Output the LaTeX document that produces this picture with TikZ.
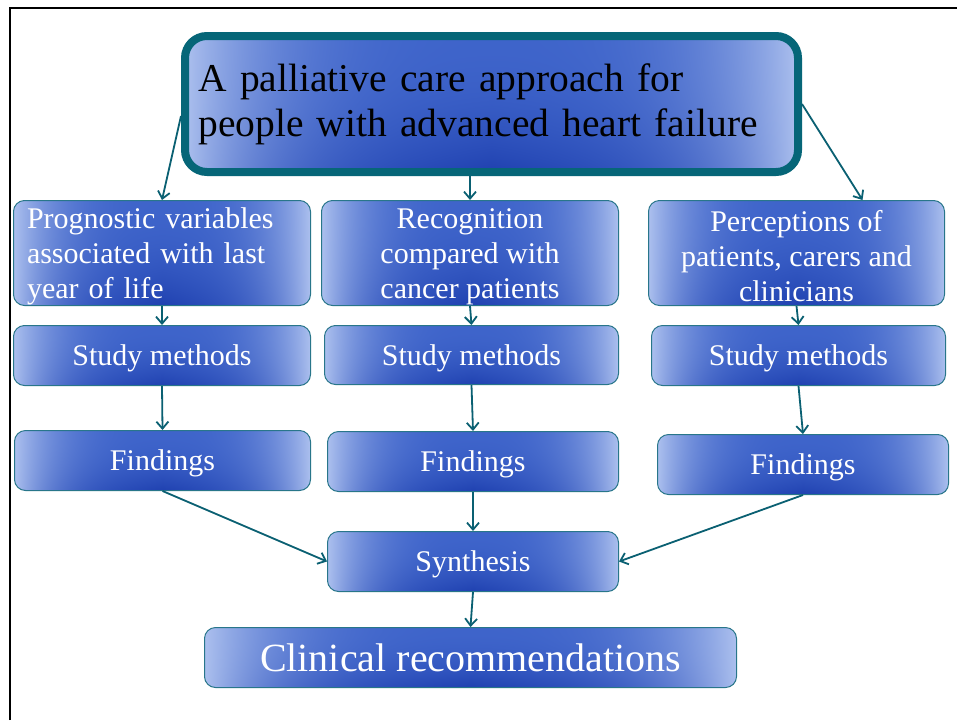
\documentclass[tikz,border=0pt]{standalone}
\usepackage{fontspec}
\setmainfont{Liberation Serif}
\usetikzlibrary{arrows.meta}
\definecolor{edge}{RGB}{40,118,138}
\definecolor{arr}{RGB}{10,96,114}
\definecolor{tb}{RGB}{6,102,120}
\pgfdeclarefunctionalshading{boxsh}{\pgfpoint{0bp}{0bp}}{\pgfpoint{100bp}{100bp}}{}{
  25 sub 50 div 1 exch sub dup mul
  exch 25 sub 50 div 2 mul 1 sub abs
  dup dup dup mul mul
  exch 1 exch sub
  3 -1 roll mul 0.7 mul
  1 index 0.43 mul 0.245 add
  1 index 1 exch sub mul
  1 index 0.071 mul add
  2 index 0.36 mul 0.393 add
  2 index 1 exch sub mul
  2 index 0.196 mul add
  3 index 0.14 mul 0.793 add
  3 index 1 exch sub mul
  3 index 0.647 mul add
  5 -2 roll pop pop
}
\newcommand{\upstrut}{\rule{0pt}{27pt}}
\begin{document}
\begin{tikzpicture}[x=1pt,y=-1pt,
  box/.style={draw=edge, line width=1pt, rounded corners=11pt, shade, shading=boxsh,
    text=white, inner sep=0pt, align=center, anchor=north west, font=\fontsize{30}{35}\selectfont},
  onebox/.style={box, text depth=0pt},
  titlebox/.style={draw=tb, line width=8pt, rounded corners=22pt, shade, shading=boxsh,
    text=black, inner sep=0pt, align=left, font=\fontsize{39.5}{45}\selectfont},
  arrow/.style={draw=arr, line width=1.8pt, -{Straight Barb[length=7pt,width=12pt]}}]
\useasboundingbox (0,0) rectangle (957,720);
\fill[white] (0,0) rectangle (957,720);
\draw[line width=2.5pt] (10,720) -- (10,8) -- (957,8);

\node[titlebox, minimum width=613pt, minimum height=136pt, text width=586pt] (t) at (491.5,104)
  {A palliative care approach for\\people with advanced heart failure};

\node[box, minimum width=297pt, minimum height=105pt, text width=270pt, align=left] (p) at (13,200)
  {\upstrut Prognostic variables\\associated with last\\year of life};
\node[box, minimum width=297pt, minimum height=105pt] (r) at (321,200)
  {\upstrut Recognition\\compared with\\cancer patients};
\node[box, minimum width=296pt, minimum height=105pt] (c) at (648,200)
  {\upstrut Perceptions of\\patients, carers and\\clinicians};

\node[onebox, minimum width=297pt, minimum height=60pt] (s1) at (13,325) {Study methods};
\node[onebox, minimum width=294pt, minimum height=59pt] (s2) at (324,325) {Study methods};
\node[onebox, minimum width=294pt, minimum height=60pt] (s3) at (651,325) {Study methods};

\node[onebox, minimum width=296pt, minimum height=60pt] (f1) at (14,430) {Findings};
\node[onebox, minimum width=291pt, minimum height=60pt] (f2) at (327,431) {Findings};
\node[onebox, minimum width=291pt, minimum height=60pt] (f3) at (657,434) {Findings};

\node[onebox, minimum width=291pt, minimum height=60pt] (syn) at (327,531) {Synthesis};
\node[onebox, minimum width=532pt, minimum height=60pt, font=\fontsize{40}{45}\selectfont] (cl) at (204,627) {Clinical recommendations};

\draw[arrow] ([yshift=-12pt]t.west) -- (p.north);
\draw[arrow] (t.south -| r.north) -- (r.north);
\draw[arrow] (t.east) -- ([xshift=66pt]c.north);

\draw[arrow] (p.south) -- (s1.north);
\draw[arrow] (r.south) -- (s2.north);
\draw[arrow] (c.south) -- (s3.north);

\draw[arrow] (s1.south) -- (f1.north);
\draw[arrow] (s2.south) -- (f2.north);
\draw[arrow] (s3.south) -- (f3.north);

\draw[arrow] (f1.south) -- (syn.west);
\draw[arrow] (f2.south) -- (syn.north);
\draw[arrow] (f3.south) -- (syn.east);
\draw[arrow] (syn.south) -- (cl.north);
\end{tikzpicture}
\end{document}
